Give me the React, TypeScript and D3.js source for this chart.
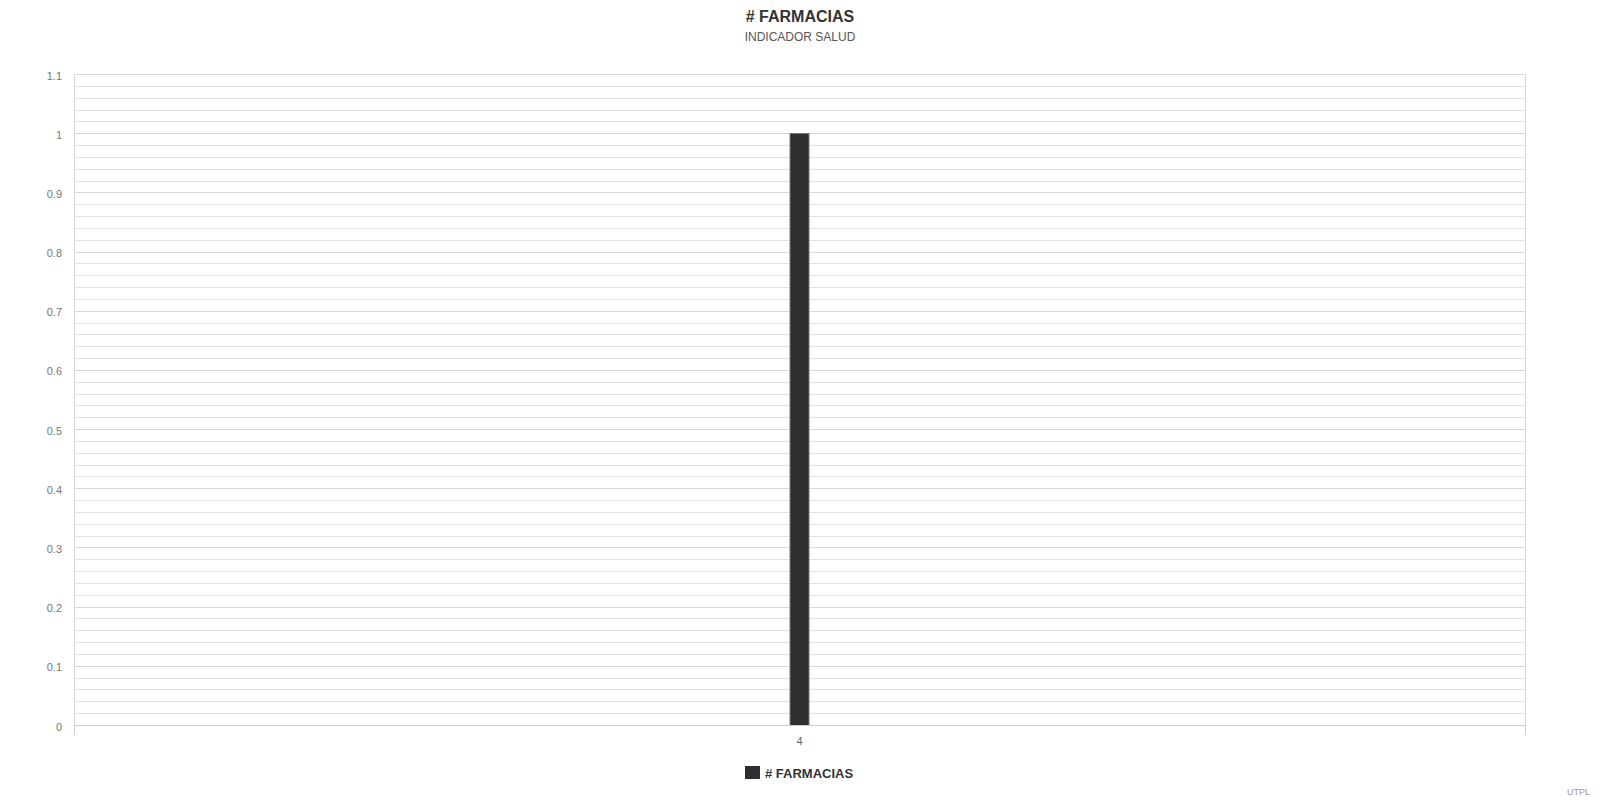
import React from "react";
import * as d3 from "d3";

const title = "# FARMACIAS";
const subtitle = "INDICADOR SALUD";
const credit = "UTPL";
const categories = ["4"];
const seriesName = "# FARMACIAS";
const seriesValues = [1];
const yTicks = [0, 0.1, 0.2, 0.3, 0.4, 0.5, 0.6, 0.7, 0.8, 0.9, 1, 1.1];

export default function App() {
  const width = 1600;
  const height = 800;
  const marginLeft = 74;
  const marginRight = 75;
  const marginTop = 74;
  const marginBottom = 75;
  const font = "'Liberation Sans', Arial, sans-serif";

  const x = d3
    .scaleBand()
    .domain(categories)
    .range([marginLeft, width - marginRight]);

  const y = d3
    .scaleLinear()
    .domain([0, 1.1])
    .range([height - marginBottom, marginTop]);

  // minor grid every 0.02
  const minorTicks = d3.range(0, 56).map((i) => i * 0.02).filter((v) => v <= 1.1001);
  const barWidth = 20;

  return (
    <div style={{ position: "fixed", top: 0, left: 0 }}>
      <svg width={width} height={height} style={{ display: "block", fontFamily: font }}>
        <rect x={0} y={0} width={width} height={height} fill="#fff" />
        <text x={width / 2} y={22} textAnchor="middle" fontSize={16} fontWeight="bold" fill="#333">
          {title}
        </text>
        <text x={width / 2} y={41} textAnchor="middle" fontSize={12} fill="#555">
          {subtitle}
        </text>

        {/* grid */}
        <g>
          {minorTicks.map((t, i) => (
            <line
              key={"m" + i}
              x1={marginLeft}
              x2={width - marginRight}
              y1={Math.round(y(t)) + 0.5}
              y2={Math.round(y(t)) + 0.5}
              stroke="#e2e2e2"
              strokeWidth={1}
            />
          ))}
          {yTicks.map((t) => (
            <line
              key={"g" + t}
              x1={marginLeft}
              x2={width - marginRight}
              y1={Math.round(y(t)) + 0.5}
              y2={Math.round(y(t)) + 0.5}
              stroke="#d8d8d8"
              strokeWidth={1}
            />
          ))}
          <line
            x1={marginLeft + 0.5}
            x2={marginLeft + 0.5}
            y1={y(1.1)}
            y2={y(0)}
            stroke="#d8d8d8"
          />
          <line
            x1={width - marginRight + 0.5}
            x2={width - marginRight + 0.5}
            y1={y(1.1)}
            y2={y(0)}
            stroke="#d8d8d8"
          />
        </g>

        {/* y labels */}
        <g>
          {yTicks.map((t) => (
            <text
              key={"yl" + t}
              x={marginLeft - 12}
              y={y(t) + 5.5}
              textAnchor="end"
              fontSize={11}
              fill="#777"
            >
              {d3.format("~g")(t)}
            </text>
          ))}
        </g>

        {/* bars */}
        <g>
          {categories.map((c, i) => (
            <rect
              key={c}
              x={(x(c) as number) + x.bandwidth() / 2 - barWidth / 2 + 0.5}
              y={Math.round(y(seriesValues[i])) + 0.5}
              width={barWidth - 1}
              height={y(0) - Math.round(y(seriesValues[i]))}
              fill="#2f2f2f"
              stroke="#777"
              strokeWidth={1}
            />
          ))}
        </g>

        {/* x axis */}
        <g>
          <line
            x1={marginLeft}
            x2={width - marginRight + 1}
            y1={Math.round(y(0)) + 0.5}
            y2={Math.round(y(0)) + 0.5}
            stroke="#c0d0e0"
          />
          {categories.map((c) => (
            <g key={"xt" + c}>
              <line
                x1={(x(c) as number) + 0.5}
                x2={(x(c) as number) + 0.5}
                y1={y(0)}
                y2={y(0) + 10}
                stroke="#c0d0e0"
              />
              <line
                x1={(x(c) as number) + x.bandwidth() + 0.5}
                x2={(x(c) as number) + x.bandwidth() + 0.5}
                y1={y(0)}
                y2={y(0) + 10}
                stroke="#c0d0e0"
              />
              <text
                x={(x(c) as number) + x.bandwidth() / 2}
                y={y(0) + 20}
                textAnchor="middle"
                fontSize={11}
                fill="#666"
              >
                {c}
              </text>
            </g>
          ))}
        </g>

        {/* legend */}
        <g transform={`translate(745,766)`}>
          <rect x={0} y={0} width={15} height={13} fill="#2f2f2f" />
          <text x={20} y={11.5} fontSize={13} fontWeight="bold" fill="#333">
            {seriesName}
          </text>
        </g>

        <text x={width - 10} y={795} textAnchor="end" fontSize={9} fill="#999">
          {credit}
        </text>
      </svg>
    </div>
  );
}
